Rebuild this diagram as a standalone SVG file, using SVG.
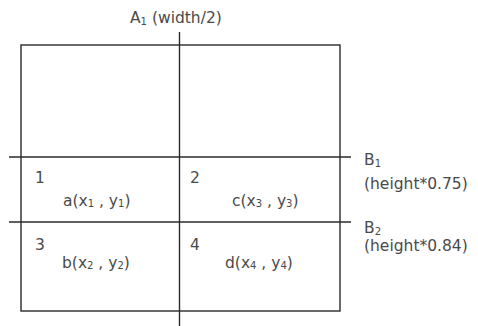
<svg xmlns="http://www.w3.org/2000/svg" width="478" height="326" viewBox="0 0 478 326">
<style>
.ln{stroke:#2a2a2a;stroke-width:1.4;fill:none}
text{font-family:"DejaVu Sans","Noto Sans",sans-serif;font-size:15.5px;fill:#4a4a4a}
.s{font-size:10px}
</style>
<rect width="478" height="326" fill="#fff"/>
<g id="connectors">
<rect class="ln" x="21" y="45" width="319" height="266"/>
<line class="ln" x1="179.5" y1="32" x2="179.5" y2="326"/>
<line class="ln" x1="9" y1="157" x2="351" y2="157"/>
<line class="ln" x1="9" y1="222" x2="351" y2="222"/>
</g>
<g id="labelA"><text x="130" y="23">A<tspan class="s" dy="2">1</tspan><tspan dy="-2"> (width/2)</tspan></text></g>
<g id="labelB1"><text x="364" y="165">B<tspan class="s" dy="2">1</tspan></text><text x="364" y="189">(height*0.75)</text></g>
<g id="labelB2"><text x="364" y="233">B<tspan class="s" dy="2">2</tspan></text><text x="364" y="251">(height*0.84)</text></g>
<g id="cell1"><text x="35" y="183">1</text><text x="63" y="206">a(x<tspan class="s" dy="1">1</tspan><tspan dy="-1"> , y</tspan><tspan class="s" dy="1">1</tspan><tspan dy="-1">)</tspan></text></g>
<g id="cell2"><text x="190" y="183">2</text><text x="232" y="206">c(x<tspan class="s" dy="1">3</tspan><tspan dy="-1"> , y</tspan><tspan class="s" dy="1">3</tspan><tspan dy="-1">)</tspan></text></g>
<g id="cell3"><text x="35" y="250">3</text><text x="62" y="268">b(x<tspan class="s" dy="1">2</tspan><tspan dy="-1"> , y</tspan><tspan class="s" dy="1">2</tspan><tspan dy="-1">)</tspan></text></g>
<g id="cell4"><text x="190" y="250">4</text><text x="225" y="268">d(x<tspan class="s" dy="1">4</tspan><tspan dy="-1"> , y</tspan><tspan class="s" dy="1">4</tspan><tspan dy="-1">)</tspan></text></g>
</svg>
